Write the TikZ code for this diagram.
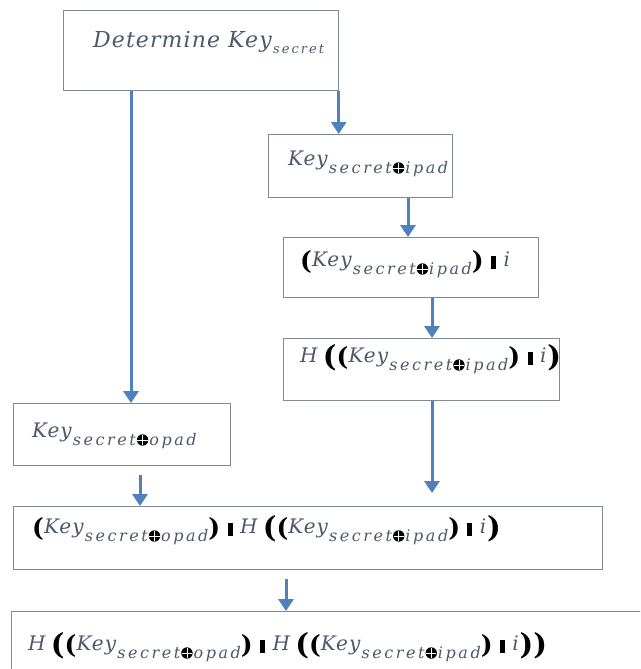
\documentclass[tikz,border=0pt]{standalone}
\usepackage{fontspec}
\setmainfont{DejaVu Serif}[LetterSpace=5]
\newfontfamily\subfam{DejaVu Serif}[LetterSpace=16]
\usetikzlibrary{arrows.meta}

\definecolor{flow}{HTML}{4F81BD}
\definecolor{frame}{HTML}{7F8A94}
\definecolor{ink}{HTML}{4B5A6B}

% filled circle with a white cross (xor sign)
\newsavebox\xorbox
\sbox\xorbox{\begin{tikzpicture}[baseline=-5pt]
  \fill[black] (0,0) circle (5.7pt);
  \draw[white,line width=0.8pt] (-5.2pt,0) -- (5.2pt,0) (0,-5.2pt) -- (0,5.2pt);
\end{tikzpicture}}

\newcommand\subtxt[2]{\raisebox{-#1}{\fontsize{16}{16}\subfam\itshape #2}}
\newcommand\keysub[1]{\textit{Key}\subtxt{8pt}{secret\hspace{1pt}\usebox\xorbox\hspace{1pt}#1}}
\newcommand\lpar{\textcolor{black}{\raisebox{-3.5pt}{\fontsize{25}{25}\selectfont\bfseries(}}}
\newcommand\rpar{\textcolor{black}{\raisebox{-3.5pt}{\fontsize{25}{25}\selectfont\bfseries)}}}
\newcommand\olpar{\textcolor{black}{\raisebox{-4.5pt}{\fontsize{29}{29}\selectfont\bfseries(}}}
\newcommand\orpar{\textcolor{black}{\raisebox{-4.5pt}{\fontsize{29}{29}\selectfont\bfseries)}}}
\newcommand\catbar{\textcolor{black}{\rule[-3pt]{5pt}{13pt}}}
\newcommand\hgap{\hspace{4pt}}

\begin{document}
\begin{tikzpicture}[x=1pt,y=-1pt,
  box/.style={draw=frame,line width=1.4pt,fill=white,anchor=north west,inner sep=0pt},
  lbl/.style={anchor=base west,inner sep=0pt,text=ink,font=\fontsize{20}{20}\selectfont},
  flow/.style={draw=flow,line width=3pt,-{Triangle[width=15pt,length=12pt]}}]
\useasboundingbox (0,0) rectangle (640,669);
\path[clip] (0,0) rectangle (640,669);
\fill[white] (0,0) rectangle (640,669);

% boxes
\node[box,minimum width=275pt,minimum height=80pt] (b1) at (63,10) {};
\node[box,minimum width=184pt,minimum height=63pt] (b2) at (268,134) {};
\node[box,minimum width=255pt,minimum height=60pt] (b3) at (283,237) {};
\node[box,minimum width=276pt,minimum height=62pt] (b4) at (283,338) {};
\node[box,minimum width=217pt,minimum height=62pt] (op) at (13,403) {};
\node[box,minimum width=589pt,minimum height=63pt] (b5) at (13,506) {};
\node[box,minimum width=650pt,minimum height=80pt] (b6) at (11,611) {};

% labels
\node[lbl,font=\fontsize{22}{22}\selectfont] (t1) at (93,48)
  {\textit{Determine Key}\raisebox{-6pt}{\fontsize{13}{13}\subfam\itshape secret}};
\node[lbl] (t2) at (288,165) {\keysub{ipad}};
\node[lbl] (t3) at (300,266) {\lpar\keysub{ipad}\rpar\ \catbar\ \textit{i}};
\node[lbl] (t4) at (300,362) {\textit{H}\hgap\olpar\lpar\keysub{ipad}\rpar\ \catbar\ \textit{i}\orpar};
\node[lbl] (t5) at (32,437) {\keysub{opad}};
\node[lbl] (t6) at (32,533) {\lpar\keysub{opad}\rpar\ \catbar\ \textit{H}\hgap\olpar\lpar\keysub{ipad}\rpar\ \catbar\ \textit{i}\orpar};
\node[lbl] (t7) at (28,650) {\textit{H}\hgap\olpar\lpar\keysub{opad}\rpar\ \catbar\ \textit{H}\hgap\olpar\lpar\keysub{ipad}\rpar\ \catbar\ \textit{i}\orpar\orpar};

% connectors
\draw[flow] ([xshift=68pt]b1.south west) -- ([xshift=118pt]op.north west);
\draw[flow] ([xshift=-0.7pt]b1.south east) -- ([xshift=70.7pt]b2.north west);
\draw[flow] ([xshift=140pt]b2.south west) -- ([xshift=125pt]b3.north west);
\draw[flow] ([xshift=149pt]b3.south west) -- ([xshift=149pt]b4.north west);
\draw[flow] ([xshift=149pt]b4.south west) -- ([xshift=419pt,yshift=13pt]b5.north west);
\draw[flow] ([xshift=127pt,yshift=-9pt]op.south west) -- ([xshift=127pt]b5.north west);
\draw[flow] ([xshift=273pt,yshift=-9pt]b5.south west) -- ([xshift=275pt]b6.north west);
\end{tikzpicture}
\end{document}
